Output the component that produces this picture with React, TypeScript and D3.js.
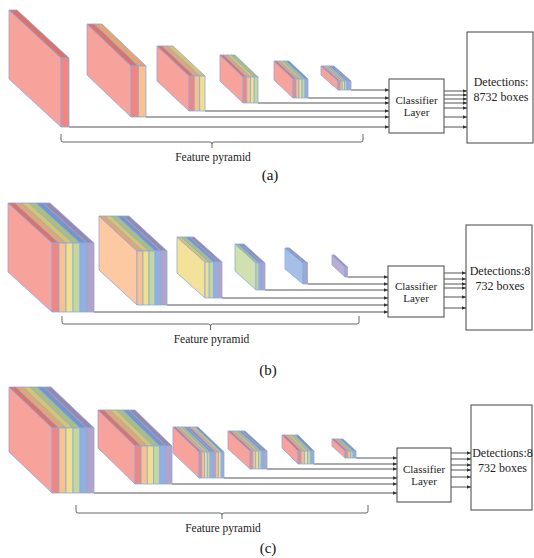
import React from 'react';
import * as d3 from 'd3';

// layer colours: pink, orange, yellow, green, blue, purple
const frontFill = ['#f2857f', '#fbc08f', '#f2df8c', '#c4d89e', '#8fb0e0', '#b3a3cb'];
const sideFill = ['#f8a29c', '#fcc9a3', '#f4e29a', '#d0e0ae', '#a6bfe6', '#bcadd3'];
const topFill = ['#d9736d', '#e3a572', '#d6c46f', '#a9bf80', '#7495c6', '#9787b2'];

// which layers each feature map carries, per panel
const layersA = [[0], [0, 1], [0, 1, 2], [0, 1, 2, 3], [0, 1, 2, 3, 4], [0, 1, 2, 3, 4, 5]];
const layersB = [[0, 1, 2, 3, 4, 5], [1, 2, 3, 4, 5], [2, 3, 4, 5], [3, 4, 5], [4, 5], [5]];
const layersC = [
  [0, 1, 2, 3, 4, 5],
  [0, 1, 2, 3, 4, 5],
  [0, 1, 2, 3, 4, 5, 1, 2, 4],
  [0, 1, 2, 3, 4, 5],
  [0, 1, 2, 3, 4],
  [0, 1, 3, 4],
];

const panelLabels = ['(a)', '(b)', '(c)'];
const classifierText = ['Classifier', 'Layer'];
const detectionText = [
  ['Detections:', '8732 boxes'],
  ['Detections:8', '732 boxes'],
  ['Detections:8', '732 boxes'],
];
const pyramidText = 'Feature pyramid';

// layout of each panel (front face x, y, width, height, depth dx, dy)
const panels = [
  {
    layers: layersA,
    blocks: [
      [61, 58, 8, 69, 52, 48],
      [131, 66, 15, 51, 44, 42],
      [189, 76, 16, 35, 32, 30],
      [243, 77, 15, 26, 23, 22],
      [293, 79, 15, 19, 19, 18],
      [338, 81, 13, 9, 17, 15],
    ],
    cls: [389, 79, 55, 54],
    det: [467, 32, 66, 111],
    outY: [91, 95, 99, 103, 108, 117, 127],
    brace: [61, 363, 142],
    label: [270, 180],
  },
  {
    layers: layersB,
    blocks: [
      [52, 243, 42, 69, 44, 40],
      [137, 251, 30, 54, 38, 35],
      [205, 262, 17, 36, 28, 25],
      [256, 263, 9, 27, 21, 19],
      [303, 263, 4.5, 21, 18, 15],
      [345, 267, 2.5, 10, 13, 12],
    ],
    cls: [388, 266, 56, 51],
    det: [466, 225, 66, 105],
    outY: [273, 279, 284, 288, 297, 308],
    brace: [62, 359, 324],
    label: [268, 375],
  },
  {
    layers: layersC,
    blocks: [
      [52, 428, 42, 65, 43, 41],
      [135, 446, 37, 38, 37, 36],
      [199, 452, 25, 26, 26, 25],
      [250, 451, 17, 18, 22, 20],
      [298, 451, 16, 13, 16, 16],
      [345, 451, 11, 7, 13, 12],
    ],
    cls: [397, 448, 54, 54],
    det: [471, 405, 61, 105],
    outY: [453, 459, 465, 470, 477, 487],
    brace: [76, 368, 513],
    label: [268, 553],
  },
];

const edge = '#8eaadb';
const ink = '#555';
const serif = "'Liberation Serif', 'Times New Roman', Times, 'DejaVu Serif', serif";
const poly = d3.line();

function Block({ b, layers }: { b: number[]; layers: number[] }) {
  const [x, y, w, h, dx, dy] = b;
  const xs = d3.scaleLinear().domain([0, layers.length]).range([x, x + w]);
  return (
    <g strokeWidth={0.8} stroke={edge} strokeLinejoin="round">
      <path
        d={poly([[x - dx, y - dy], [x, y], [x, y + h], [x - dx, y + h - dy]]) + 'Z'}
        fill={sideFill[layers[0]]}
      />
      {layers.map((c, i) => {
        const x0 = xs(i), x1 = xs(i + 1);
        return (
          <path key={'t' + i}
            d={poly([[x0 - dx, y - dy], [x1 - dx, y - dy], [x1, y], [x0, y]]) + 'Z'}
            fill={topFill[c]} />
        );
      })}
      {layers.map((c, i) => (
        <rect key={'f' + i} x={xs(i)} y={y} width={xs(i + 1) - xs(i)} height={h} fill={frontFill[c]} />
      ))}
    </g>
  );
}

function bracePath(x0: number, x1: number, yb: number) {
  const p = d3.path();
  const mid = (x0 + x1) / 2;
  p.moveTo(x0, yb - 8);
  p.lineTo(x0, yb - 2);
  p.quadraticCurveTo(x0, yb, x0 + 2, yb);
  p.lineTo(mid - 2, yb);
  p.quadraticCurveTo(mid, yb, mid, yb + 2);
  p.lineTo(mid, yb + 6);
  p.moveTo(mid, yb + 2);
  p.quadraticCurveTo(mid, yb, mid + 2, yb);
  p.lineTo(x1 - 2, yb);
  p.quadraticCurveTo(x1, yb, x1, yb - 2);
  p.lineTo(x1, yb - 8);
  return p.toString();
}

const txt = { fontFamily: serif };

export default function App() {
  return (
    <svg width={534} height={558} style={{ position: 'absolute', left: 0, top: 0, background: '#fff' }}>
      <defs>
        <marker id="arr" viewBox="0 0 6 6" refX={6} refY={3} markerWidth={4.5} markerHeight={4.5} orient="auto">
          <path d="M0,0.5 L6,3 L0,5.5 Z" fill="#333" />
        </marker>
      </defs>
      {panels.map((pn, pi) => {
        const [cx, cy, cw, ch] = pn.cls;
        const [dx, dy, dw, dh] = pn.det;
        const [bx0, bx1, by] = pn.brace;
        const mid = (bx0 + bx1) / 2;
        return (
          <g key={pi}>
            {pn.blocks.map((b, i) => (
              <line key={'l' + i} x1={b[0] + b[2]} y1={b[1] + b[3]} x2={cx} y2={b[1] + b[3]}
                stroke={ink} strokeWidth={1} markerEnd="url(#arr)" />
            ))}
            {pn.blocks.map((b, i) => (
              <Block key={'b' + i} b={b} layers={pn.layers[i]} />
            ))}
            <rect x={cx} y={cy} width={cw} height={ch} fill="#fff" stroke="#444" strokeWidth={1} />
            {classifierText.map((t, i) => (
              <text key={'c' + i} x={cx + cw / 2} y={cy + ch / 2 + 4 + (i - 0.5) * 12} textAnchor="middle"
                fontSize={11} fill="#222" style={txt}>{t}</text>
            ))}
            {pn.outY.map((yy, i) => (
              <line key={'o' + i} x1={cx + cw} y1={yy} x2={dx} y2={yy} stroke={ink} strokeWidth={1}
                markerEnd="url(#arr)" />
            ))}
            <rect x={dx} y={dy} width={dw} height={dh} fill="#fff" stroke="#444" strokeWidth={1} />
            {detectionText[pi].map((t, i) => (
              <text key={'d' + i} x={dx + dw / 2 + 1} y={(pi === 0 ? cy + 7 : cy + 9) + i * 14.5}
                textAnchor="middle" fontSize={12} fill="#222" style={txt}>{t}</text>
            ))}
            <path d={bracePath(bx0, bx1, by)} fill="none" stroke="#666" strokeWidth={1} />
            <text x={mid + 1} y={by + 19} textAnchor="middle" fontSize={11.5} fill="#222" style={txt}>
              {pyramidText}
            </text>
            <text x={pn.label[0]} y={pn.label[1]} textAnchor="middle" fontSize={15} fill="#111" style={txt}>
              {panelLabels[pi]}
            </text>
          </g>
        );
      })}
    </svg>
  );
}
